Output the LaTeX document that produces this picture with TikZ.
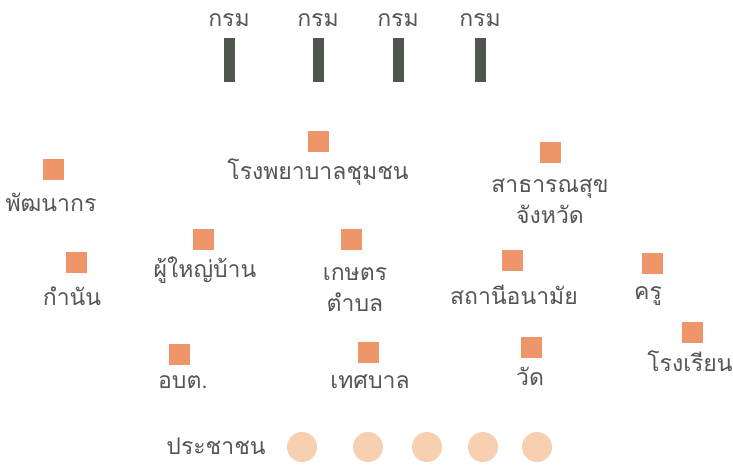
\documentclass[tikz,border=0pt]{standalone}
\usepackage{fontspec}
\newfontfamily\thaifont[Script=Thai]{Loma}
\usepackage{tikz}
\usetikzlibrary{positioning}
\definecolor{unitcolor}{RGB}{238,150,105}
\definecolor{deptcolor}{RGB}{78,86,78}
\definecolor{folkcolor}{RGB}{246,208,176}
\definecolor{textgray}{RGB}{85,85,85}
\tikzset{
  unit/.style={rectangle, fill=unitcolor, minimum size=21pt, inner sep=0pt},
  dept/.style={rectangle, fill=deptcolor, minimum width=11pt,
               minimum height=44pt, inner sep=0pt},
  folk/.style={circle, fill=folkcolor, minimum size=30pt, inner sep=0pt},
  tag/.style={font=\thaifont\fontsize{23}{31}\selectfont, text=textgray,
              align=center, inner sep=0pt},
}

\begin{document}
\begin{tikzpicture}[x=1pt, y=-1pt]
  \useasboundingbox (0,0) rectangle (733,466);

  % departments
  \foreach \n/\x in {1/229, 2/318, 3/398, 4/480} {
    \node[tag] (deptlabel\n) at (\x,20) {กรม};
    \node[dept] (dept\n) at (\x,60) {};
  }

  % local units
  \node[unit] (dev) at (53,169) {};
  \node[tag] (devlabel) at (51,202) {พัฒนากร};

  \node[unit] (hospital) at (318,141) {};
  \node[tag] (hospitallabel) at (318,172) {โรงพยาบาลชุมชน};

  \node[unit] (health) at (550,152) {};
  \node[tag] (healthlabel) at (550,201) {สาธารณสุข\\จังหวัด};

  \node[unit] (kamnan) at (76,262) {};
  \node[tag] (kamnanlabel) at (72,296) {กำนัน};

  \node[unit] (headman) at (203,239) {};
  \node[tag] (headmanlabel) at (205,270) {ผู้ใหญ่บ้าน};

  \node[unit] (farm) at (351,239) {};
  \node[tag] (farmlabel) at (355,290) {เกษตร\\ตำบล};

  \node[unit] (clinic) at (512,260) {};
  \node[tag] (cliniclabel) at (514,295) {สถานีอนามัย};

  \node[unit] (teacher) at (652,263) {};
  \node[tag] (teacherlabel) at (648,296) {ครู};

  \node[unit] (school) at (692,332) {};
  \node[tag] (schoollabel) at (690,361) {โรงเรียน};

  \node[unit] (tao) at (179,354) {};
  \node[tag] (taolabel) at (183,382) {อบต.};

  \node[unit] (town) at (368,352) {};
  \node[tag] (townlabel) at (370,382) {เทศบาล};

  \node[unit] (temple) at (531,347) {};
  \node[tag] (templelabel) at (530,376) {วัด};

  % people
  \node[tag] (people) at (216,446) {ประชาชน};
  \foreach \n/\x in {1/302, 2/368, 3/427, 4/483, 5/537}
    \node[folk] (folk\n) at (\x,447) {};
\end{tikzpicture}
\end{document}
